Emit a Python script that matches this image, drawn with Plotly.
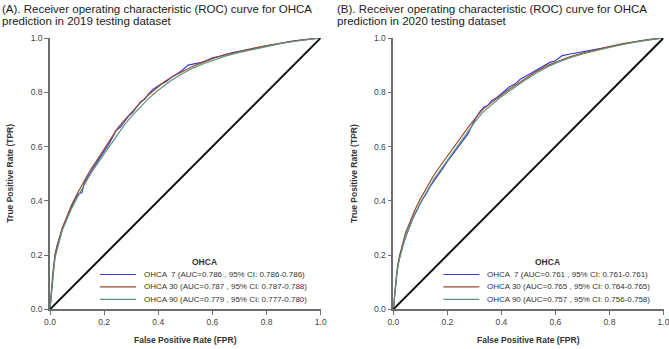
import plotly.graph_objects as go

W, H = 669, 349

models = ["OHCA  7", "OHCA 30", "OHCA 90"]
colors = ["#3a3ae0", "#9c4a2a", "#5b957a"]

auc_2019 = [0.786, 0.787, 0.779]
ci_lo_2019 = [0.786, 0.787, 0.777]
ci_hi_2019 = [0.786, 0.788, 0.780]
auc_2020 = [0.761, 0.765, 0.757]
ci_lo_2020 = [0.761, 0.764, 0.756]
ci_hi_2020 = [0.761, 0.765, 0.758]

tick_vals = [0.0, 0.2, 0.4, 0.6, 0.8, 1.0]
tick_text = ["0.0", "0.2", "0.4", "0.6", "0.8", "1.0"]
diag = [0.0, 1.0]

fpr_fine = [0, 0.004, 0.008, 0.012, 0.018, 0.026, 0.035, 0.045, 0.058, 0.07,
            0.082, 0.092, 0.105, 0.118, 0.128, 0.14, 0.155, 0.17, 0.185, 0.2,
            0.215, 0.23, 0.245, 0.26, 0.275, 0.29, 0.305, 0.32, 0.335, 0.35,
            0.365, 0.38, 0.395, 0.41, 0.43, 0.45, 0.47, 0.49, 0.51, 0.53,
            0.545, 0.56, 0.58, 0.6, 0.625, 0.65, 0.675, 0.7, 0.73, 0.76,
            0.79, 0.82, 0.85, 0.88, 0.91, 0.94, 0.97, 1.0]
fpr_smooth = [0, 0.005, 0.01, 0.015, 0.02, 0.03, 0.045, 0.06, 0.08, 0.1,
              0.125, 0.15, 0.175, 0.2, 0.225, 0.25, 0.275, 0.3, 0.33, 0.36,
              0.39, 0.42, 0.45, 0.49, 0.53, 0.57, 0.61, 0.65, 0.7, 0.75,
              0.8, 0.85, 0.9, 0.95, 1.0]

tpr_2019_d7 = [0, 0.05, 0.1, 0.15, 0.2, 0.235, 0.268, 0.295, 0.33, 0.356,
               0.385, 0.405, 0.425, 0.43, 0.47, 0.49, 0.515, 0.54, 0.56, 0.583,
               0.605, 0.632, 0.66, 0.672, 0.69, 0.712, 0.725, 0.745, 0.765, 0.774,
               0.795, 0.81, 0.82, 0.83, 0.84, 0.856, 0.868, 0.882, 0.9, 0.903,
               0.907, 0.91, 0.918, 0.927, 0.932, 0.94, 0.946, 0.951, 0.957, 0.963,
               0.969, 0.976, 0.981, 0.986, 0.99, 0.994, 0.997, 1]
tpr_2019_d30 = [0, 0.07, 0.13, 0.17, 0.205, 0.245, 0.3, 0.335, 0.385, 0.425,
                0.472, 0.515, 0.552, 0.59, 0.628, 0.668, 0.697, 0.725, 0.757, 0.787,
                0.813, 0.837, 0.856, 0.878, 0.897, 0.912, 0.927, 0.939, 0.951, 0.962,
                0.972, 0.981, 0.989, 0.995, 1]
tpr_2019_d90 = [0, 0.06, 0.12, 0.16, 0.195, 0.235, 0.29, 0.325, 0.372, 0.41,
                0.457, 0.5, 0.537, 0.573, 0.61, 0.648, 0.68, 0.71, 0.742, 0.773,
                0.8, 0.824, 0.845, 0.869, 0.89, 0.906, 0.921, 0.934, 0.947, 0.958,
                0.969, 0.979, 0.987, 0.994, 1]

tpr_2020_d7 = [0, 0.045, 0.09, 0.125, 0.165, 0.205, 0.235, 0.265, 0.3, 0.33,
               0.355, 0.375, 0.4, 0.42, 0.44, 0.458, 0.48, 0.5, 0.522, 0.545,
               0.565, 0.585, 0.605, 0.628, 0.645, 0.675, 0.705, 0.728, 0.745, 0.752,
               0.77, 0.778, 0.792, 0.803, 0.82, 0.83, 0.848, 0.858, 0.87, 0.882,
               0.89, 0.9, 0.91, 0.916, 0.935, 0.94, 0.944, 0.948, 0.955, 0.96,
               0.966, 0.972, 0.978, 0.984, 0.989, 0.993, 0.997, 1]
tpr_2020_d30 = [0, 0.062, 0.113, 0.153, 0.184, 0.226, 0.281, 0.317, 0.367, 0.407,
                0.452, 0.494, 0.53, 0.565, 0.6, 0.634, 0.668, 0.7, 0.735, 0.76,
                0.783, 0.805, 0.825, 0.852, 0.877, 0.898, 0.915, 0.93, 0.944, 0.957,
                0.968, 0.979, 0.988, 0.995, 1]
tpr_2020_d90 = [0, 0.055, 0.104, 0.144, 0.174, 0.214, 0.268, 0.303, 0.353, 0.392,
                0.437, 0.479, 0.514, 0.549, 0.583, 0.618, 0.653, 0.688, 0.725, 0.751,
                0.776, 0.798, 0.819, 0.846, 0.871, 0.893, 0.911, 0.926, 0.941, 0.954,
                0.965, 0.976, 0.986, 0.993, 1]

titles = [["(A). Receiver operating characteristic (ROC) curve for OHCA",
           "prediction in 2019 testing dataset"],
          ["(B). Receiver operating characteristic (ROC) curve for OHCA",
           "prediction in 2020 testing dataset"]]


def px(x):
    return x / W


def py(y):
    return 1 - y / H


FONT = "Liberation Sans, Arial, sans-serif"
AXC = "#6e6e6e"

fig = go.Figure()

panels = [
    dict(xa="x", ya="y", curves=[(fpr_fine, tpr_2019_d7), (fpr_smooth, tpr_2019_d30), (fpr_smooth, tpr_2019_d90)],
         auc=auc_2019, lo=ci_lo_2019, hi=ci_hi_2019, left=50, right=320.7, tx=0),
    dict(xa="x2", ya="y2", curves=[(fpr_fine, tpr_2020_d7), (fpr_smooth, tpr_2020_d30), (fpr_smooth, tpr_2020_d90)],
         auc=auc_2020, lo=ci_lo_2020, hi=ci_hi_2020, left=393.3, right=663.5, tx=335),
]
top, bottom = 38, 309.3

annotations = []
shapes = []
for pi, p in enumerate(panels):
    for k, (xs, ys) in enumerate(p["curves"]):
        fig.add_trace(go.Scatter(x=xs, y=ys, mode="lines", xaxis=p["xa"], yaxis=p["ya"],
                                 line=dict(color=colors[k], width=1.2), showlegend=False,
                                 name=models[k]))
    fig.add_trace(go.Scatter(x=diag, y=diag, mode="lines", xaxis=p["xa"], yaxis=p["ya"],
                             line=dict(color="#111111", width=2), showlegend=False))
    for li, line in enumerate(titles[pi]):
        annotations.append(dict(text=line, x=px(p["tx"]), y=py(9 + 12.5 * li), xref="paper", yref="paper",
                                xanchor="left", yanchor="middle", showarrow=False,
                                font=dict(family=FONT, size=11.5, color="#222")))
    cx = (p["left"] + p["right"]) / 2
    annotations.append(dict(text="<b>False Positive Rate (FPR)</b>", x=px(cx), y=py(340),
                            xref="paper", yref="paper", xanchor="center", yanchor="middle",
                            showarrow=False, font=dict(family=FONT, size=8.5, color="#333")))
    annotations.append(dict(text="<b>True Positive Rate (TPR)</b>", x=px(p["left"] - 40),
                            y=py((top + bottom) / 2), xref="paper", yref="paper", textangle=-90,
                            xanchor="center", yanchor="middle", showarrow=False,
                            font=dict(family=FONT, size=8.5, color="#333")))
    lx = p["left"] + 50
    annotations.append(dict(text="<b>OHCA</b>", x=px(lx + 104), y=py(262), xref="paper", yref="paper",
                            xanchor="center", yanchor="middle", showarrow=False,
                            font=dict(family=FONT, size=8.5, color="#333")))
    for k in range(3):
        yy = 274.5 + 12.4 * k
        shapes.append(dict(type="line", xref="paper", yref="paper", x0=px(lx), x1=px(lx + 36),
                           y0=py(yy), y1=py(yy), line=dict(color=colors[k], width=1.2)))
        txt = f"{models[k]} (AUC={p['auc'][k]:.3f} , 95% CI: {p['lo'][k]:.3f}-{p['hi'][k]:.3f})"
        annotations.append(dict(text=txt, x=px(lx + 42), y=py(yy), xref="paper", yref="paper",
                                xanchor="left", yanchor="middle", showarrow=False,
                                font=dict(family=FONT, size=8, color="#333")))

axis_common = dict(range=[0, 1], tickvals=tick_vals, ticktext=tick_text, showline=True,
                   linecolor=AXC, linewidth=1.5, ticks="outside", ticklen=4, tickwidth=1.2,
                   tickcolor=AXC, showgrid=False, zeroline=False, fixedrange=True,
                   ticklabeloverflow="allow", automargin=False,
                   tickfont=dict(family=FONT, size=8.5, color="#444"))

fig.update_layout(
    width=W, height=H, margin=dict(l=0, r=0, t=0, b=0, autoexpand=False),
    paper_bgcolor="white", plot_bgcolor="white",
    xaxis=dict(domain=[px(50), px(320.7)], anchor="y", **axis_common),
    yaxis=dict(domain=[py(bottom), py(top)], anchor="x", **axis_common),
    xaxis2=dict(domain=[px(393.3), px(663.5)], anchor="y2", **axis_common),
    yaxis2=dict(domain=[py(bottom), py(top)], anchor="x2", **axis_common),
    annotations=annotations, shapes=shapes, showlegend=False,
)

fig.write_html("out.html")
